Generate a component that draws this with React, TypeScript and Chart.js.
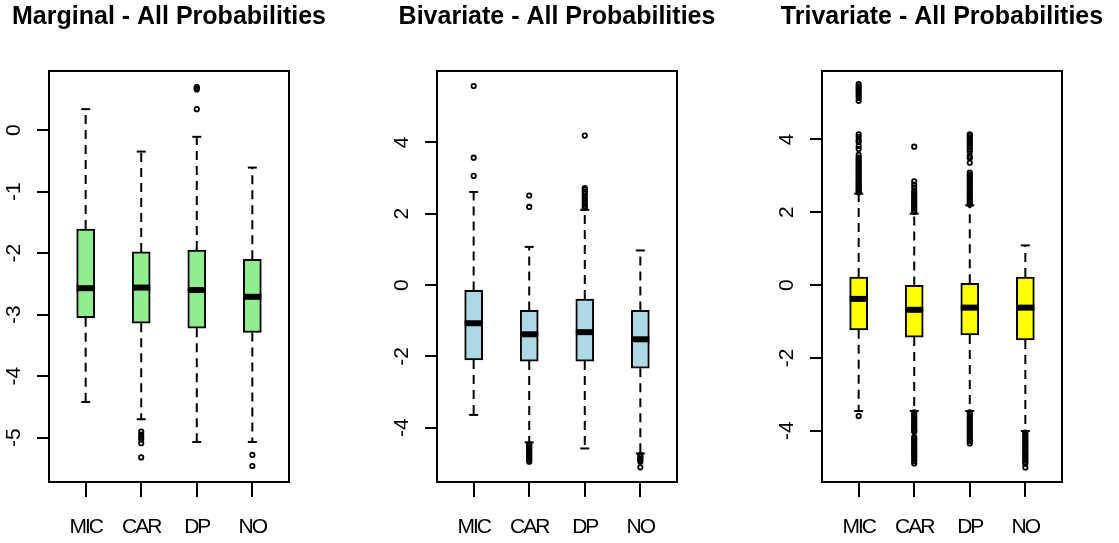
import React, { useEffect, useRef } from 'react';
import { Chart, registerables } from 'chart.js';

Chart.register(...registerables);

const SANS = "'Liberation Sans', Arial, sans-serif";

const categories = ['MIC', 'CAR', 'DP', 'NO'];

// ---- Marginal ----
const margTitle = 'Marginal - All Probabilities';
const margMin = [-4.42, -4.70, -5.07, -5.07];
const margQ1 = [-3.05, -3.14, -3.22, -3.29];
const margMed = [-2.57, -2.56, -2.60, -2.71];
const margQ3 = [-1.61, -1.98, -1.95, -2.10];
const margMax = [0.34, -0.35, -0.11, -0.61];
const margOutMIC: number[] = [];
const margOutCAR = [-4.90, -4.95, -4.99, -5.03, -5.09, -5.32];
const margOutDP = [0.34, 0.66, 0.68, 0.70];
const margOutNO = [-5.28, -5.46];
const margTicks = [-5, -4, -3, -2, -1, 0];

// ---- Bivariate ----
const biTitle = 'Bivariate - All Probabilities';
const biMin = [-3.64, -4.41, -4.58, -4.72];
const biQ1 = [-2.10, -2.13, -2.13, -2.33];
const biMed = [-1.07, -1.38, -1.32, -1.52];
const biQ3 = [-0.15, -0.71, -0.39, -0.71];
const biMax = [2.61, 1.07, 2.11, 0.97];
const biOutMIC = [5.58, 3.57, 3.06];
const biOutCAR = [2.51, 2.19, -4.46, -4.50, -4.55, -4.58, -4.63, -4.66, -4.71, -4.74, -4.79, -4.82, -4.86, -4.91, -4.95];
const biOutDP = [4.19, 2.72, 2.68, 2.62, 2.57, 2.50, 2.44, 2.38, 2.31, 2.26, 2.21, 2.16];
const biOutNO = [-4.76, -4.81, -4.86, -4.90, -4.95, -5.11];
const biTicks = [-4, -2, 0, 2, 4];

// ---- Trivariate ----
const triTitle = 'Trivariate - All Probabilities';
const triMin = [-3.46, -3.46, -3.46, -4.01];
const triQ1 = [-1.23, -1.43, -1.37, -1.51];
const triMed = [-0.38, -0.68, -0.62, -0.62];
const triQ3 = [0.22, -0.01, 0.05, 0.22];
const triMax = [2.51, 1.96, 2.19, 1.09];
const triOutMIC = [5.52, 5.46, 5.41, 5.36, 5.31, 5.26, 5.20, 5.14, 5.06, 4.14, 4.07, 3.98, 3.93, 3.82, 3.74, 3.58,
  3.50, 3.45, 3.40, 3.36, 3.31, 3.27, 3.22, 3.18, 3.13, 3.09, 3.04, 3.00, 2.95, 2.91, 2.86, 2.82, 2.78, 2.73,
  2.69, 2.65, 2.61, 2.57, 2.54, -3.60];
const triOutCAR = [3.80, 2.85, 2.76, 2.68, 2.58, 2.53, 2.48, 2.43, 2.38, 2.33, 2.28, 2.24, 2.19, 2.14, 2.10, 2.05, 2.01,
  -3.50, -3.55, -3.60, -3.65, -3.70, -3.75, -3.80, -3.85, -3.90, -3.95, -4.00, -4.03, -4.18, -4.23, -4.28, -4.33,
  -4.38, -4.43, -4.48, -4.53, -4.58, -4.63, -4.68, -4.72, -4.78, -4.84, -4.90];
const triOutDP = [4.14, 4.10, 4.05, 4.00, 3.95, 3.90, 3.84, 3.79, 3.72, 3.66, 3.54, 3.49, 3.36, 3.09, 3.04, 2.99, 2.93,
  2.88, 2.83, 2.78, 2.73, 2.68, 2.63, 2.58, 2.53, 2.48, 2.43, 2.38, 2.34, 2.29, 2.25, 2.21,
  -3.50, -3.55, -3.61, -3.66, -3.71, -3.76, -3.82, -3.87, -3.92, -3.97, -4.03, -4.08, -4.13, -4.19, -4.24, -4.29, -4.35];
const triOutNO = [-4.05, -4.10, -4.15, -4.20, -4.26, -4.31, -4.36, -4.41, -4.46, -4.52, -4.57, -4.62, -4.67, -4.72,
  -4.77, -4.82, -4.87, -4.91, -5.01];
const triTicks = [-4, -2, 0, 2, 4];

type PanelProps = {
  title: string;
  min: number[]; q1: number[]; med: number[]; q3: number[]; max: number[];
  out: number[][];
  ticks: number[];
  yMin: number; yMax: number;
  fill: string;
  left: number; width: number; side: number;
};

const panels: PanelProps[] = [
  {
    title: margTitle, min: margMin, q1: margQ1, med: margMed, q3: margQ3, max: margMax,
    out: [margOutMIC, margOutCAR, margOutDP, margOutNO], ticks: margTicks,
    yMin: -5.72, yMax: 0.96, fill: '#90EE90', left: 0, width: 338, side: 49,
  },
  {
    title: biTitle, min: biMin, q1: biQ1, med: biMed, q3: biQ3, max: biMax,
    out: [biOutMIC, biOutCAR, biOutDP, biOutNO], ticks: biTicks,
    yMin: -5.52, yMax: 6.0, fill: '#ADD8E6', left: 377, width: 360, side: 60,
  },
  {
    title: triTitle, min: triMin, q1: triQ1, med: triMed, q3: triQ3, max: triMax,
    out: [triOutMIC, triOutCAR, triOutDP, triOutNO], ticks: triTicks,
    yMin: -5.41, yMax: 5.88, fill: '#FFFF00', left: 766, width: 352, side: 56,
  },
];

const framePlugin = {
  id: 'frame',
  afterDraw(chart: any) {
    const { ctx, chartArea } = chart;
    const { left, top, right, bottom } = chartArea;
    ctx.save();
    ctx.strokeStyle = '#000';
    ctx.lineWidth = 2;
    ctx.strokeRect(left, top, right - left, bottom - top);
    ctx.restore();
  },
};

// x tick labels are drawn after the datasets (ticks.z = 1); tighten them like the
// condensed font of the original.
const narrowPlugin = {
  id: 'narrowTicks',
  afterDatasetsDraw(chart: any) {
    (chart.ctx as any).letterSpacing = '-2px';
  },
  afterDraw(chart: any) {
    (chart.ctx as any).letterSpacing = '0px';
  },
};

function Panel(p: PanelProps) {
  const ref = useRef<HTMLCanvasElement | null>(null);
  useEffect(() => {
    if (!ref.current) return;
    const xs = categories.map((_, i) => i + 1);
    const boxes = xs.map((x, i) => ({ x, y: [p.q1[i], p.q3[i]] }));
    const whiskers: any[] = [];
    xs.forEach((x, i) => {
      whiskers.push({ x, y: p.q3[i] }, { x, y: p.max[i] }, { x, y: null });
      whiskers.push({ x, y: p.q1[i] }, { x, y: p.min[i] }, { x, y: null });
    });
    const caps = xs.flatMap((x, i) => [{ x, y: p.max[i] }, { x, y: p.min[i] }]);
    const medians = xs.map((x, i) => ({ x, y: p.med[i] }));
    const outliers = xs.flatMap((x, i) => p.out[i].map((y) => ({ x, y })));

    const chart = new Chart(ref.current, {
      type: 'bar',
      data: {
        datasets: [
          {
            type: 'bar',
            data: boxes as any,
            backgroundColor: p.fill,
            borderColor: '#000',
            borderWidth: 2,
            borderSkipped: false,
            barThickness: 18,
            grouped: false,
            order: 5,
          } as any,
          {
            type: 'line',
            data: whiskers,
            borderColor: '#000',
            borderWidth: 2,
            borderDash: [9, 6],
            pointRadius: 0,
            spanGaps: false,
            fill: false,
            order: 4,
          } as any,
          {
            type: 'scatter',
            data: caps,
            pointStyle: 'line',
            pointRadius: 4.5,
            pointBorderWidth: 2,
            borderColor: '#000',
            pointBorderColor: '#000',
            order: 2,
          } as any,
          {
            type: 'scatter',
            data: outliers,
            pointStyle: 'circle',
            pointRadius: 2.2,
            pointBorderWidth: 1.8,
            borderColor: '#000',
            pointBorderColor: '#000',
            pointBackgroundColor: 'rgba(0,0,0,0)',
            backgroundColor: 'rgba(0,0,0,0)',
            order: 3,
          } as any,
          {
            type: 'scatter',
            data: medians,
            pointStyle: 'line',
            pointRadius: 9,
            pointBorderWidth: 6,
            borderColor: '#000',
            pointBorderColor: '#000',
            order: 1,
          } as any,
        ],
      },
      options: {
        responsive: false,
        animation: false,
        events: [],
        layout: { padding: 0 },
        plugins: {
          legend: { display: false },
          tooltip: { enabled: false },
          title: {
            display: true,
            text: p.title,
            color: '#000',
            font: { family: SANS, size: 25, weight: 'bold' },
            padding: { top: 2, bottom: 39 },
          },
        },
        scales: {
          x: {
            type: 'linear',
            min: 0.34,
            max: 4.66,
            offset: false,
            afterBuildTicks: (s: any) => { s.ticks = xs.map((v) => ({ value: v })); },
            afterFit: (s: any) => { s.height = 61; },
            ticks: {
              autoSkip: false,
              maxRotation: 0,
              minRotation: 0,
              padding: 18,
              z: 1,
              color: '#000',
              font: { family: SANS, size: 21 },
              callback: (_v: any, i: number) => categories[i],
            },
            grid: { display: true, offset: false, drawOnChartArea: false, drawTicks: true, tickLength: 15, color: '#000', lineWidth: 2 },
            border: { display: false },
          },
          y: {
            type: 'linear',
            position: 'left',
            min: p.yMin,
            max: p.yMax,
            afterBuildTicks: (s: any) => { s.ticks = p.ticks.map((v) => ({ value: v })); },
            afterFit: (s: any) => { s.width = p.side; },
            ticks: {
              minRotation: 90,
              maxRotation: 90,
              crossAlign: 'center',
              padding: 13,
              color: '#000',
              font: { family: SANS, size: 21 },
              callback: (v: any) => String(v),
            },
            grid: { display: true, drawOnChartArea: false, drawTicks: true, tickLength: 12, color: '#000', lineWidth: 2 },
            border: { display: false },
          },
          yr: {
            type: 'linear',
            axis: 'y',
            position: 'right',
            display: true,
            afterFit: (s: any) => { s.width = p.side; },
            ticks: { display: false },
            grid: { display: false },
            border: { display: false },
          },
        } as any,
      },
      plugins: [framePlugin, narrowPlugin],
    } as any);
    return () => chart.destroy();
  }, []);
  return (
    <canvas
      ref={ref}
      width={p.width}
      height={543}
      style={{ position: 'absolute', left: p.left, top: 0, width: p.width, height: 543 }}
    />
  );
}

export default function App() {
  return (
    <div style={{ position: 'fixed', left: 0, top: 0, width: 1119, height: 543, background: '#fff', overflow: 'hidden' }}>
      {panels.map((p) => (
        <Panel key={p.title} {...p} />
      ))}
    </div>
  );
}
